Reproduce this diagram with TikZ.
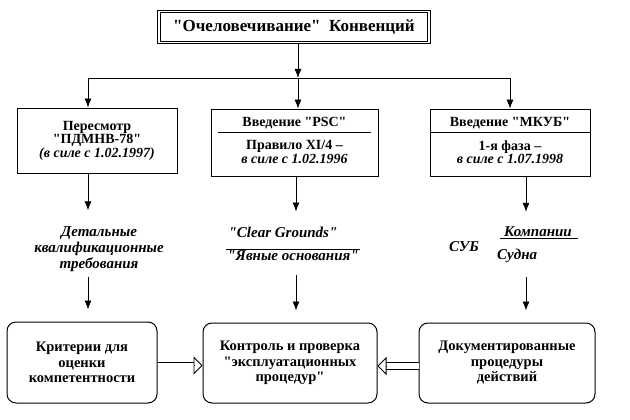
\documentclass[tikz,border=0pt]{standalone}
\usepackage{fontspec}
\setmainfont{Liberation Serif}
\usetikzlibrary{positioning, arrows.meta}
\newcommand\qt[1]{\textquotedbl#1\textquotedbl}
\tikzset{
  box/.style={draw, line width=0.9pt, inner sep=2pt, align=center, font=\fontsize{14}{13.5}\selectfont\bfseries},
  rbox/.style={draw, line width=1pt, rounded corners=9pt, align=center, font=\fontsize{14.5}{15.5}\selectfont\bfseries},
  lab/.style={align=center, inner sep=1pt, font=\fontsize{15}{16}\selectfont\bfseries\itshape},
  arr/.style={line width=0.8pt, -{Latex[length=9pt,width=7pt]}},
  hshaft/.style={double, double distance=6pt, line width=0.8pt, shorten >=8.5pt},
  hhead/.style={line width=0.8pt, -{Triangle[open, length=9pt, width=18pt]}},
}
\begin{document}
\begin{tikzpicture}[x=1pt,y=-1pt]
\useasboundingbox (0,0) rectangle (630,420);

\node[draw, double, double distance=1.2pt, line width=1.1pt, minimum width=270pt, minimum height=31pt, font=\fontsize{17}{18}\selectfont\bfseries] (title) at (294,27) {\qt{Очеловечивание}\ \ Конвенций};

\coordinate (jl) at (88,78);
\coordinate (jm) at (298,78);
\coordinate (jr) at (510,78);
\coordinate (kl) at (88,0);
\coordinate (km) at (296,0);
\coordinate (kr) at (526,0);

\node[box, minimum width=160pt, minimum height=65pt] (pdmnv) at (97,140.5) {Пересмотр\\\qt{ПДМНВ-78}\\\textit{(в силе с 1.02.1997)}};

\node[box, minimum width=167pt, minimum height=67pt] (psc) at (294.5,142.5) {};
\node[box, draw=none] (psc-head) at (294.5,123) {Введение \qt{PSC}};
\node[box, draw=none] (psc-body) at (294.5,152) {Правило XI/4 –\\\textit{в силе с 1.02.1996}};
\draw[line width=0.8pt] ([xshift=7pt,yshift=-1pt]psc.west |- psc-head.south) -- ([xshift=-7pt,yshift=-1pt]psc.east |- psc-head.south);

\node[box, minimum width=160pt, minimum height=67pt] (mkub) at (510,142.5) {};
\node[box, draw=none] (mkub-head) at (510,123) {Введение \qt{МКУБ}};
\node[box, draw=none] (mkub-body) at (510,152) {1-я фаза –\\\textit{в силе с 1.07.1998}};
\draw[line width=0.8pt] ([yshift=-1pt]mkub.west |- mkub-head.south) -- ([yshift=-1pt]mkub.east |- mkub-head.south);

\node[lab] (det) at (99,249) {Детальные\\квалификационные\\требования};
\node[lab] (clear) at (283,232) {\qt{Clear Grounds}};
\node[lab] (yavn) at (293,256) {\qt{Явные основания}};
\draw[line width=0.7pt] (yavn.north west) -- (yavn.north east);
\node[lab] (sub) at (464,247) {СУБ};
\node[lab] (komp) at (538,232) {Компании};
\node[lab, anchor=west] (sudna) at (496,256) {Судна};
\draw[line width=0.7pt] ([xshift=-3pt]komp.south west) -- ([xshift=5pt]komp.south east);

\node[rbox, minimum width=150pt, minimum height=81pt] (krit) at (82,362.5) {Критерии для\\оценки\\компетентности};
\node[rbox, minimum width=174pt, minimum height=80pt] (kontr) at (290,363) {Контроль и проверка\\\qt{эксплуатационных\\процедур}};
\node[rbox, minimum width=176pt, minimum height=80pt] (dok) at (507,363) {Документированные\\процедуры\\действий};

\draw[arr] (title.south -| jm) -- (jm);
\draw[line width=0.8pt] (jl) -- (jr);
\draw[arr] (jl) -- (jl |- pdmnv.north);
\draw[arr] (jm) -- (jm |- psc.north);
\draw[arr] (jr) -- (jr |- mkub.north);

\draw[arr, shorten >=15pt] (pdmnv.south -| kl) -- (kl |- det.north);
\draw[arr, shorten >=14pt] (psc.south -| km) -- (km |- clear.north);
\draw[arr, shorten >=14pt] (mkub.south -| kr) -- (kr |- komp.north);

\draw[arr, shorten <=4pt, shorten >=12pt] (det.south -| kl) -- (kl |- krit.north);
\draw[arr, shorten <=13pt, shorten >=12pt] (yavn.south -| km) -- (km |- kontr.north);
\draw[arr, shorten <=13pt, shorten >=12pt] (sudna.south -| kr) -- (kr |- dok.north);

\coordinate (h1) at ([yshift=-3pt]krit.east);
\coordinate (h2) at (h1 -| kontr.west);
\coordinate (h3) at ([yshift=-3pt]dok.west);
\coordinate (h4) at (h3 -| kontr.east);
\draw[hshaft] (h1) -- (h2);
\draw[hhead] ([xshift=-9pt]h2) -- (h2);
\draw[hshaft] (h3) -- (h4);
\draw[hhead] ([xshift=9pt]h4) -- (h4);
\end{tikzpicture}
\end{document}
